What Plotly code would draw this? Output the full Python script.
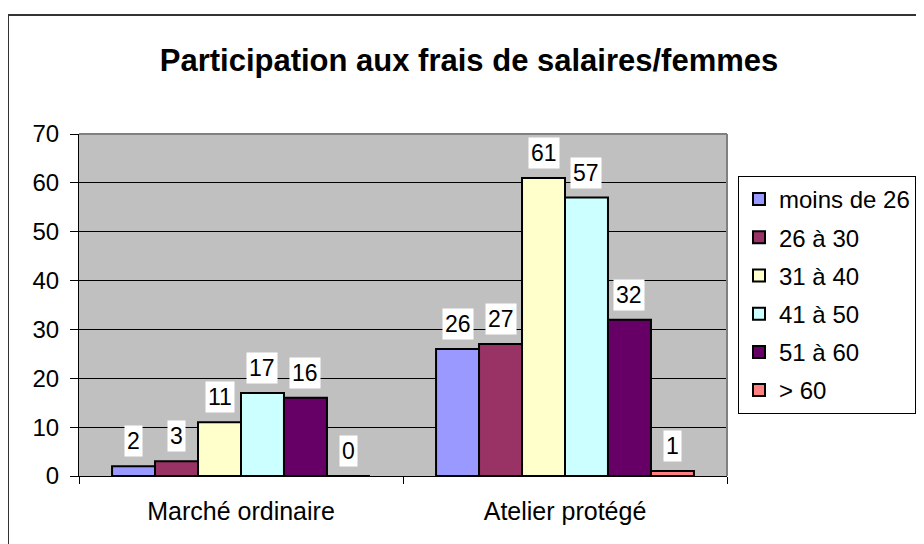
import plotly.graph_objects as go

categories = ["Marché ordinaire", "Atelier protégé"]
series_names = ["moins de 26", "26 à 30", "31 à 40", "41 à 50", "51 à 60", "> 60"]
series_values = [
    [2, 26],
    [3, 27],
    [11, 61],
    [17, 57],
    [16, 32],
    [0, 1],
]
series_colors = ["#9999FF", "#993366", "#FFFFCC", "#CCFFFF", "#660066", "#FF8080"]
y_ticks = [0, 10, 20, 30, 40, 50, 60, 70]

FONT = "Liberation Sans, Arial, sans-serif"
BARGAP = 0.204
OFF = 8  # page body margin

W, H = 924 - OFF, 544 - OFF
L, T, R, B = 79 - OFF, 134 - OFF, 727 - OFF, 476 - OFF

fig = go.Figure()
for i, (name, vals, col) in enumerate(zip(series_names, series_values, series_colors)):
    fig.add_trace(go.Bar(
        x=categories, y=vals, name=name, legendgroup=f"g{i}",
        marker=dict(color=col, line=dict(color="black", width=2)),
    ))

# data labels (white boxes) above each bar
n = len(series_names)
bw = (1 - BARGAP) / n
for k, vals in enumerate(series_values):
    for ci, v in enumerate(vals):
        fig.add_annotation(
            x=ci + (k - (n - 1) / 2) * bw, y=v, xref="x", yref="y",
            text=str(v), showarrow=False, yanchor="bottom", yshift=9,
            bgcolor="white", borderpad=2,
            font=dict(family=FONT, size=23, color="black"),
        )

fig.update_layout(
    width=W, height=H,
    margin=dict(l=L, r=W - R, t=T, b=H - B, autoexpand=False),
    paper_bgcolor="white", plot_bgcolor="#C0C0C0",
    barmode="group", bargap=BARGAP, bargroupgap=0,
    font=dict(family=FONT, size=24, color="black"),
    title=dict(text="<b>Participation aux frais de salaires/femmes</b>",
               xref="container", x=(469 - OFF) / W, xanchor="center",
               yref="container", y=1 - (60 - OFF) / H, yanchor="middle",
               font=dict(family=FONT, size=31, color="black")),
    showlegend=True,
    legend=dict(x=(738 - 79) / 648, xanchor="left", y=(476 - 176) / 342, yanchor="top",
                bgcolor="white", bordercolor="black", borderwidth=1,
                font=dict(family=FONT, size=24, color="black"),
                traceorder="grouped", tracegroupgap=4, itemwidth=30),
    xaxis=dict(type="category", showline=True, linecolor="black", linewidth=1,
               ticks="outside", tickson="boundaries", ticklen=7, tickcolor="black",
               showgrid=False, tickfont=dict(family=FONT, size=25), ticklabelstandoff=13),
    yaxis=dict(range=[0, 70], tickvals=y_ticks, showline=True, linecolor="black", linewidth=1,
               ticks="outside", ticklen=8, tickcolor="black",
               showgrid=True, gridcolor="black", gridwidth=1, zeroline=False,
               tickfont=dict(family=FONT, size=24), ticklabelstandoff=6),
)

# plot area border (top / right) in gray
fig.add_shape(type="line", xref="paper", yref="paper", x0=0, x1=1, y0=1, y1=1,
              line=dict(color="#808080", width=2))
fig.add_shape(type="line", xref="paper", yref="paper", x0=1, x1=1, y0=0, y1=1,
              line=dict(color="#808080", width=2))
# outer chart border (top and left, continuing past the picture)
x_left = (8 - 79) / 648
y_top = (476 - 15) / 342
fig.add_shape(type="line", xref="paper", yref="paper", x0=x_left, x1=2, y0=y_top, y1=y_top,
              line=dict(color="#333333", width=2))
fig.add_shape(type="line", xref="paper", yref="paper", x0=x_left, x1=x_left, y0=y_top, y1=-1,
              line=dict(color="#333333", width=2))

fig.write_html("out.html")
